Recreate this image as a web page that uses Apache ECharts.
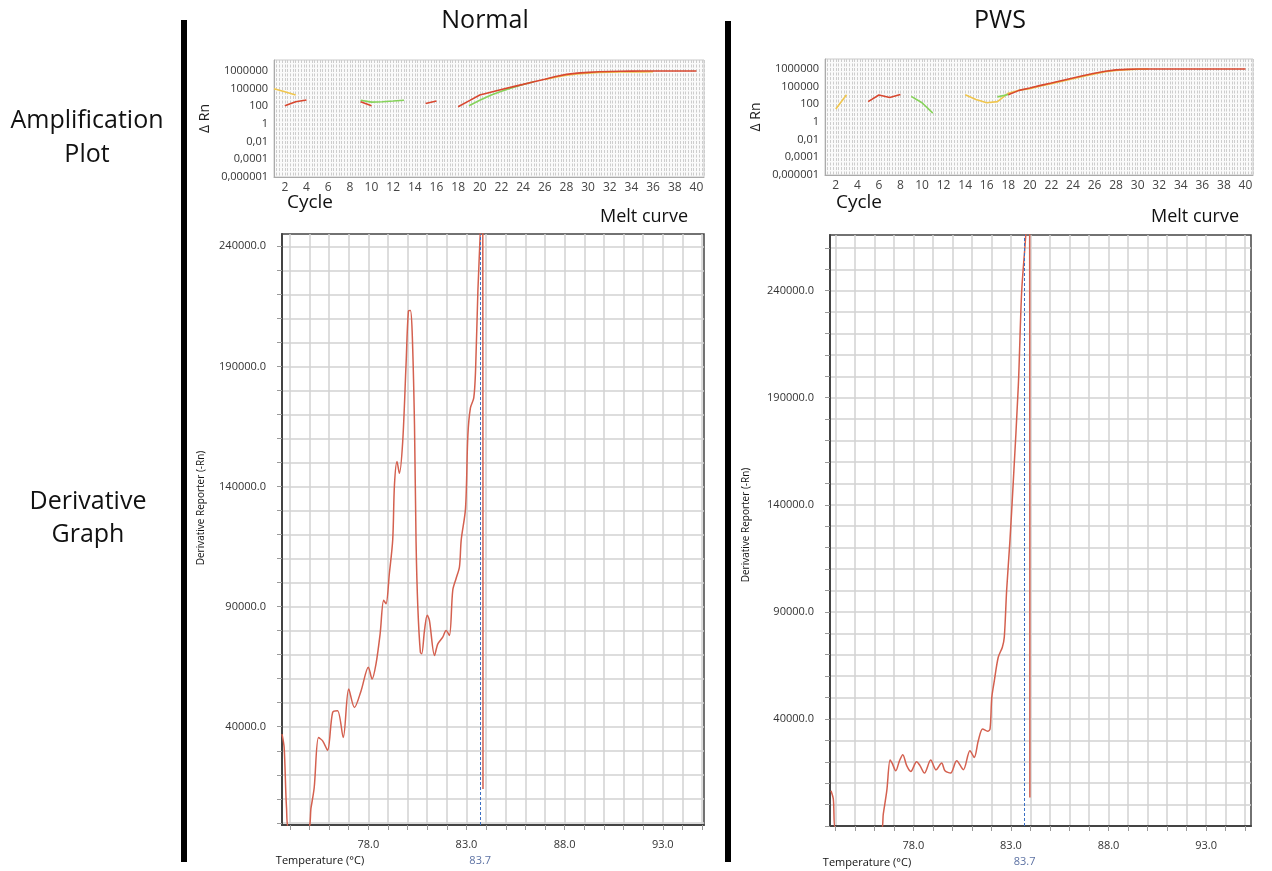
<!DOCTYPE html>
<html>
<head>
<meta charset="utf-8">
<title>Normal vs PWS - amplification and melt curves</title>
<script src="https://cdn.jsdelivr.net/npm/echarts@6/dist/echarts.min.js"></script>
<style>
  html, body { margin: 0; padding: 0; background: #fff; }
  #chart { width: 1272px; height: 871px; }
</style>
</head>
<body>
<div id="chart"></div>
<script>
// ---- amplification plot: [cycle, ΔRn], null = gap in the trace ----
const normalYellow = [[1, 10000], [2, 4500], [3, 1900], [4, null],
  [26, 110000], [27, 200000], [28, 340000], [29, 480000], [30, 580000], [31, 680000],
  [32, 750000], [33, 790000], [34, 800000], [35, 810000], [36, 820000]];
const normalGreen = [[9, 500], [10, 300], [11, 330], [12, 400], [13, 500], [14, null],
  [19, 115], [20, 500], [21, 1800], [22, 5000], [23, 13000], [24, 30000], [25, 60000]];
const normalRed = [[2, 115], [3, 330], [4, 520], [5, null],
  [9, 330], [10, 115], [11, null],
  [15, 210], [16, 400], [17, null],
  [18, 90], [19, 420], [20, 1900], [21, 4000], [22, 8300], [23, 16000], [24, 31000],
  [25, 62000], [26, 120000], [27, 240000], [28, 420000], [29, 580000], [30, 710000],
  [31, 820000], [32, 900000], [33, 950000], [34, 980000], [35, 1000000], [36, 1000000],
  [37, 1000000], [38, 1000000], [39, 1000000], [40, 1000000]];

const pwsYellow = [[2, 30], [3, 1200], [4, null],
  [14, 1200], [15, 350], [16, 150], [17, 200], [18, 1800], [19, 4000], [20, 6000],
  [21, 12000], [22, 22000], [23, 42000], [24, 80000], [25, 150000], [26, 280000],
  [27, 480000], [28, 700000], [29, 850000], [30, 950000], [31, 1000000]];
const pwsGreen = [[9, 800], [10, 150], [11, 10], [12, null], [17, 700], [18, 1300]];
const pwsRed = [[5, 200], [6, 1150], [7, 600], [8, 1300], [9, null],
  [18, 1200], [19, 3800], [20, 7000], [21, 14000], [22, 26000], [23, 50000],
  [24, 95000], [25, 180000], [26, 330000], [27, 550000], [28, 800000], [29, 900000],
  [30, 1000000], [31, 1000000], [32, 1000000], [33, 1000000], [34, 1000000],
  [35, 1000000], [36, 1000000], [37, 1000000], [38, 1000000], [39, 1000000], [40, 1000000]];

// y tick labels of the amplification plot (log10 position -> text as printed)
const ampYExp = [6, 4, 2, 0, -2, -4, -6];
const ampYLabels = ['1000000', '100000', '100', '1', '0,01', '0,0001', '0,000001'];

// ---- derivative graph: [temperature °C, derivative reporter] ----
const normalDeriv = [
  [73.60, 36900], [73.71, 31300], [73.83, 6300], [73.97, -3000], [74.90, -3000],
  [75.08, 6300], [75.24, 14600], [75.46, 35500], [75.67, 34100], [75.92, 30200],
  [76.18, 46000], [76.43, 46700], [76.72, 35500], [77.00, 55700], [77.29, 48000],
  [77.63, 55000], [78.00, 64800], [78.19, 59900], [78.39, 66200], [78.60, 78700],
  [78.78, 92600], [78.90, 91200], [79.07, 103800], [79.24, 117700], [79.33, 140700],
  [79.46, 150400], [79.58, 145500], [79.75, 158700], [79.92, 190800], [80.04, 213000],
  [80.14, 213300], [80.23, 204700], [80.35, 165700], [80.43, 117000], [80.52, 89800],
  [80.65, 71000], [80.72, 70400], [80.86, 80100], [81.00, 86400], [81.11, 84300],
  [81.37, 69700], [81.54, 74500], [81.79, 77300], [81.96, 80100], [82.13, 78000],
  [82.30, 96800], [82.47, 101700], [82.64, 106500], [82.73, 117700], [82.95, 130900],
  [83.07, 161500], [83.20, 172700], [83.37, 176900], [83.46, 188000], [83.58, 221400],
  [83.70, 245400], [83.76, 262000], [83.83, 245000], [83.84, 14100]];
const pwsDeriv = [
  [73.78, 6500], [73.90, 2600], [74.02, -12000], [76.35, -12000], [76.46, -4400],
  [76.64, 6500], [76.81, 20800], [76.92, 19200], [77.10, 15800], [77.28, 20200],
  [77.46, 23300], [77.66, 18200], [77.87, 15500], [78.17, 20000], [78.34, 18200],
  [78.57, 14700], [78.89, 20800], [79.16, 16200], [79.45, 19400], [79.62, 15800],
  [79.91, 14700], [80.22, 20500], [80.56, 16300], [80.90, 25200], [81.12, 22000],
  [81.33, 29900], [81.55, 35300], [81.81, 34200], [81.93, 35300], [82.02, 50100],
  [82.15, 57900], [82.35, 68800], [82.56, 73500], [82.66, 78200], [82.78, 100000],
  [82.95, 123400], [83.12, 150700], [83.38, 195900], [83.55, 239500], [83.76, 266000],
  [83.85, 285000], [83.96, 270000], [83.97, 3300]];

const tempLabels = [78, 83, 88, 93];
const derivLabels = [40000, 90000, 140000, 190000, 240000];
const meltTemp = 83.7;

function range(a, b, step) {
  const out = [];
  for (let v = a; v <= b; v += step) out.push(v);
  return out;
}
const tempTicks = range(74, 95, 1);

const chart = echarts.init(document.getElementById('chart'));
const FONT = 'Open Sans';

function logPairs(arr) {
  return arr.map(p => [p[0], p[1] == null ? '-' : Math.log10(p[1])]);
}

function ampLine(data, color, idx) {
  return {
    type: 'line',
    xAxisIndex: idx,
    yAxisIndex: idx,
    data: logPairs(data),
    symbol: 'none',
    connectNulls: false,
    lineStyle: { color: color, width: 1.6 },
    itemStyle: { color: color },
  };
}

function ampX(idx, max) {
  return {
    type: 'value',
    gridIndex: idx,
    min: 1,
    max: max,
    interval: 0.25,
    axisLine: { show: true, onZero: false, lineStyle: { color: '#aaa' } },
    axisTick: { show: false },
    axisLabel: {
      color: '#444', fontSize: 12, margin: 5, fontFamily: FONT,
      formatter: v => (v % 2 === 0 ? String(v) : ''),
    },
    // dense dashed verticals give the textured grid of the instrument export
    splitLine: { show: true, lineStyle: { color: '#cdcdcd', width: 1, type: [3, 1.5] } },
  };
}

function ampY(idx, max) {
  return {
    type: 'value',
    gridIndex: idx,
    min: -6,
    max: max,
    interval: 0.5,
    name: 'Δ Rn',
    nameLocation: 'middle',
    nameGap: 62,
    nameTextStyle: { fontSize: 14, color: '#222', fontFamily: FONT },
    axisLine: { show: true, onZero: false, lineStyle: { color: '#aaa' } },
    axisTick: { show: false },
    axisLabel: {
      color: '#333', fontSize: 11, margin: 6, fontFamily: FONT,
      formatter: v => {
        const i = ampYExp.indexOf(v);
        return i >= 0 ? ampYLabels[i] : '';
      },
    },
    splitLine: { show: false },
  };
}

function derivX(idx, min, max) {
  return {
    type: 'value',
    gridIndex: idx,
    min: min,
    max: max,
    axisLine: { show: true, onZero: false, lineStyle: { color: '#444', width: 2 } },
    axisTick: { show: true, customValues: tempTicks, length: 5, lineStyle: { color: '#999' } },
    axisLabel: {
      customValues: tempLabels, color: '#333', fontSize: 11, margin: 14, fontFamily: FONT,
      formatter: v => v.toFixed(1),
    },
    splitLine: { show: true, lineStyle: { color: '#d2d2d2', width: 1.5 } },
  };
}

function derivY(idx, min, max) {
  return {
    type: 'value',
    gridIndex: idx,
    min: min,
    max: max,
    axisLine: { show: true, onZero: false, lineStyle: { color: '#444', width: 2 } },
    axisTick: { show: true, customValues: range(Math.ceil(min / 10000) * 10000, max, 10000),
      length: 5, lineStyle: { color: '#999' } },
    axisLabel: {
      customValues: derivLabels, color: '#333', fontSize: 11, margin: 16, fontFamily: FONT,
      formatter: v => v.toFixed(1),
    },
    splitLine: { show: true, lineStyle: { color: '#d2d2d2', width: 1.5 } },
  };
}

function derivLine(data, idx) {
  return {
    type: 'line',
    xAxisIndex: idx,
    yAxisIndex: idx,
    data: data,
    symbol: 'none',
    smooth: 0.3,
    clip: true,
    lineStyle: { color: '#d4604f', width: 1.5 },
    itemStyle: { color: '#d4604f' },
    markLine: {
      silent: true,
      symbol: ['none', 'none'],
      lineStyle: { color: '#3a6fc4', type: [3, 2], width: 1 },
      label: {
        show: true, position: 'start', formatter: String(meltTemp),
        color: '#5d72a3', fontSize: 11, distance: 30, fontFamily: FONT,
      },
      data: [{ xAxis: meltTemp }],
    },
  };
}

function text(x, y, str, size, extra) {
  return Object.assign({
    type: 'text', x: x, y: y,
    style: { text: str, fontSize: size, fill: '#111', fontFamily: FONT, align: 'center', verticalAlign: 'middle' },
  }, extra || {});
}

const option = {
  animation: false,
  backgroundColor: '#fff',
  grid: [
    { left: 274, top: 60, width: 430, height: 117, show: true, borderColor: '#c8c8c8', borderWidth: 1, backgroundColor: '#fafafa' },
    { left: 825, top: 59, width: 428, height: 116, show: true, borderColor: '#c8c8c8', borderWidth: 1, backgroundColor: '#fafafa' },
    { left: 282, top: 234, width: 422, height: 591, show: true, borderColor: '#444', borderWidth: 1.5, backgroundColor: '#fff' },
    { left: 830, top: 235, width: 421, height: 591, show: true, borderColor: '#444', borderWidth: 1.5, backgroundColor: '#fff' },
  ],
  xAxis: [ampX(0, 40.7), ampX(1, 40.7), derivX(2, 73.6, 95.1), derivX(3, 73.73, 95.3)],
  yAxis: [ampY(0, 7.25), ampY(1, 7.13), derivY(2, -900, 245100), derivY(3, -10000, 266000)],
  series: [
    ampLine(normalYellow, '#f0c64e', 0),
    ampLine(normalGreen, '#86d35a', 0),
    ampLine(normalRed, '#d8472f', 0),
    ampLine(pwsYellow, '#f0c64e', 1),
    ampLine(pwsGreen, '#86d35a', 1),
    ampLine(pwsRed, '#d8472f', 1),
    derivLine(normalDeriv, 2),
    derivLine(pwsDeriv, 3),
  ],
  graphic: [
    { type: 'rect', shape: { x: 181, y: 20, width: 6, height: 842 }, style: { fill: '#000' } },
    { type: 'rect', shape: { x: 725, y: 21, width: 6, height: 841 }, style: { fill: '#000' } },
    text(485, 21, 'Normal', 25),
    text(1000, 21, 'PWS', 25),
    text(87, 121, 'Amplification', 25),
    text(87, 155, 'Plot', 25),
    text(88, 502, 'Derivative', 25),
    text(88, 535, 'Graph', 25),
    text(310, 203, 'Cycle', 19),
    text(859, 203, 'Cycle', 19),
    text(644, 217, 'Melt curve', 18),
    text(1195, 217, 'Melt curve', 18),
    text(201, 508, 'Derivative Reporter (-Rn)', 10, { rotation: Math.PI / 2 }),
    text(746, 525, 'Derivative Reporter (-Rn)', 10, { rotation: Math.PI / 2 }),
    text(320, 861, 'Temperature (°C)', 11),
    text(867, 863, 'Temperature (°C)', 11),
  ],
};

chart.setOption(option);
</script>
</body>
</html>
